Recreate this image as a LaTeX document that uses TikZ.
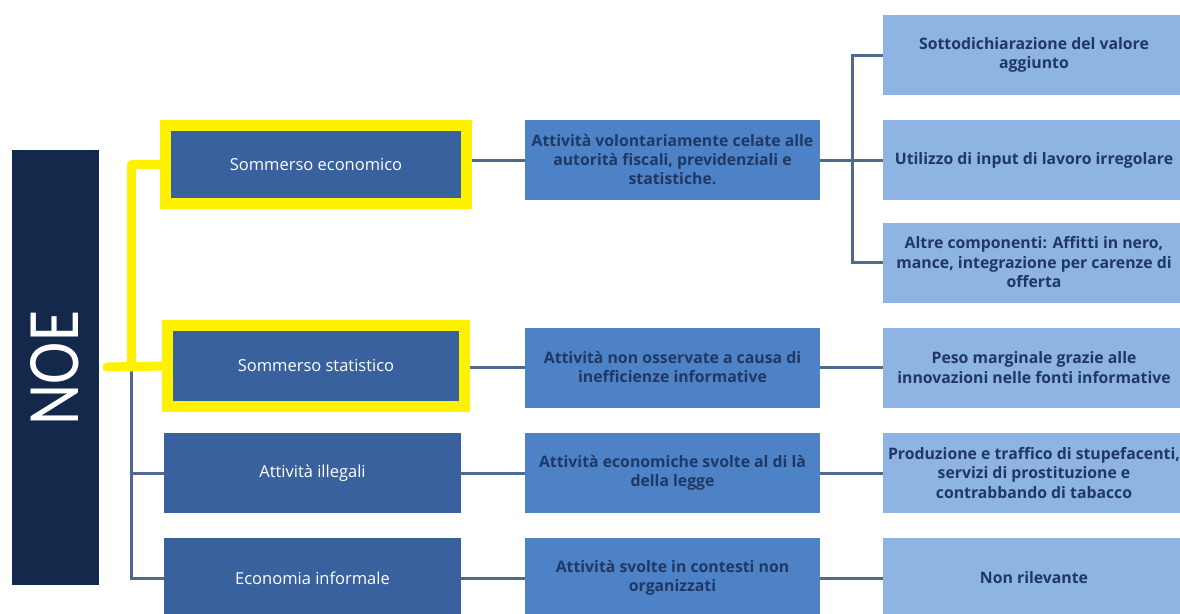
\documentclass[tikz,border=0pt]{standalone}
\usepackage{fontspec}
\setmainfont{Open Sans}
\newfontfamily\noefont{Carlito}
\definecolor{noebg}{HTML}{13284A}
\definecolor{lvlone}{HTML}{38619D}
\definecolor{lvltwo}{HTML}{4D82C6}
\definecolor{lvlthree}{HTML}{8DB4E2}
\definecolor{txtdark}{HTML}{1F3864}
\definecolor{conn}{HTML}{4F6A8C}
\definecolor{hilite}{HTML}{FFF200}
\tikzset{
  boxbase/.style={rectangle, inner sep=1pt, align=center, anchor=center},
  onebox/.style={boxbase, fill=lvlone, text=white, font=\fontsize{16.5}{19}\selectfont, minimum width=297, minimum height=80},
  hibox/.style={boxbase, fill=lvlone, draw=hilite, line width=11pt, text=white, font=\fontsize{16.5}{19}\selectfont},
  twobox/.style={boxbase, fill=lvltwo, text=txtdark, font=\bfseries\fontsize{15.8}{19}\selectfont, minimum width=295, minimum height=80},
  threebox/.style={boxbase, fill=lvlthree, text=txtdark, font=\bfseries\fontsize{15.8}{19.5}\selectfont, minimum width=302, minimum height=80},
  connline/.style={draw=conn, line width=3pt},
  yline/.style={draw=hilite, line width=9pt, line cap=round, line join=round}
}
\begin{document}
\begin{tikzpicture}[x=1pt,y=-1pt]
\useasboundingbox (0,0) rectangle (1180,613);
\clip (0,0) rectangle (1180,613);
\fill[white] (0,0) rectangle (1180,613);

% NOE
\node[rectangle, fill=noebg, minimum width=87, minimum height=435, inner sep=0] (noe) at (55.5,367.5) {};
\node[rotate=90, text=white, font=\noefont\fontsize{74}{74}\selectfont, inner sep=0] (noetxt) at (55,368) {\scalebox{0.86}[1]{NOE}};

% level 1
\node[hibox, minimum width=301, minimum height=78] (s1) at (316,164.5) {Sommerso economico};
\node[hibox, minimum width=297, minimum height=81] (s2) at (316,366) {Sommerso statistico};
\node[onebox] (s3) at (312.5,473) {Attività illegali};
\node[onebox] (s4) at (312.5,578) {Economia informale};

% level 2
\node[twobox] (d1) at (672.5,160) {Attività volontariamente celate alle\\autorità fiscali, previdenziali e\\statistiche.};
\node[twobox] (d2) at (672.5,367.5) {Attività non osservate a causa di\\inefficienze informative};
\node[twobox] (d3) at (672.5,473) {Attività economiche svolte al di là\\della legge};
\node[twobox] (d4) at (672.5,578) {Attività svolte in contesti non\\organizzati};

% level 3
\node[threebox] (e1) at (1034,55) {Sottodichiarazione del valore\\aggiunto};
\node[threebox] (e2) at (1034,160) {Utilizzo di input di lavoro irregolare};
\node[threebox] (e3) at (1034,262.5) {Altre componenti: Affitti in nero,\\mance, integrazione per carenze di\\offerta};
\node[threebox] (e4) at (1034,367.5) {Peso marginale grazie alle\\innovazioni nelle fonti informative};
\node[threebox] (e5) at (1034,473) {Produzione e traffico di stupefacenti,\\servizi di prostituzione e\\contrabbando di tabacco};
\node[threebox] (e6) at (1034,578) {Non rilevante};

% coordinates for buses
\coordinate (lbus) at (131,367);
\coordinate (ystart) at (107,367);
\coordinate (rbus) at (852,160);

% grey left bus
\draw[connline] (lbus) |- (s3.west);
\draw[connline] (lbus) |- (s4.west);

% yellow connectors
\draw[yline] (ystart) -- (s2.west);
\draw[yline] (lbus) |- (s1.west);

% level1 -> level2
\draw[connline] (d1.west -| s1.east) -- (d1.west);
\draw[connline] (d2.west -| s2.east) -- (d2.west);
\draw[connline] (s3.east) -- (d3.west);
\draw[connline] (s4.east) -- (d4.west);

% level2 -> level3
\draw[connline] (d1.east) -- (e2.west);
\draw[connline] (e1.west) -| (rbus) |- (e3.west);
\draw[connline] (d2.east) -- (e4.west);
\draw[connline] (d3.east) -- (e5.west);
\draw[connline] (d4.east) -- (e6.west);
\end{tikzpicture}
\end{document}
